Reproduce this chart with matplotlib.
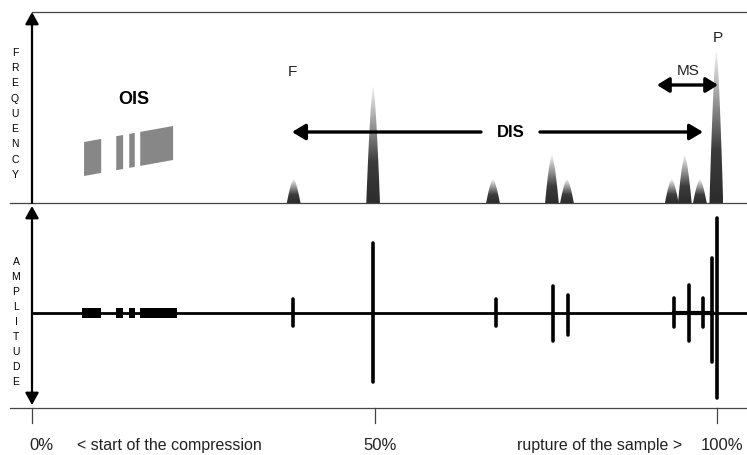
import matplotlib
matplotlib.use("Agg")
import matplotlib.pyplot as plt
import numpy as np
from matplotlib.colors import LinearSegmentedColormap
from matplotlib.patches import Polygon

plt.rcParams["font.family"] = ["Liberation Sans", "DejaVu Sans"]

# x axis = progress of the compression test in % (0 = start, 100 = rupture)
PEAK_POS  = [38.2, 49.8, 67.3, 75.9, 78.1, 93.4, 95.3, 97.5, 99.9]
PEAK_FREQ = [1.0, 4.9, 1.0, 2.0, 1.0, 1.0, 2.0, 1.0, 6.4]

# OIS: continuous low-level emission
OIS_START     = [7.6, 12.3, 14.2, 15.8]
OIS_END       = [10.1, 13.3, 15.0, 20.6]
OIS_AMP_START = [7.3, 12.3, 14.2, 15.8]
OIS_AMP_END   = [10.1, 13.3, 15.0, 21.2]

AMP_POS  = [38.1, 49.8, 67.7, 76.1, 78.2, 93.7, 95.9, 98.0, 99.3, 100.0]
AMP_UP   = [14, 70, 14, 27, 18, 15, 28, 15, 55, 95]
AMP_DOWN = [13, 69, 13, 28, 22, 14, 28, 14, 49, 85]

TICK_POS    = [0, 50, 100]
TICK_LABELS = ["0%", "50%", "100%"]

# geometry (figure pixels -> data)
W, H = 747, 456
X0, X100 = 32, 717
PX = 100.0 / (X100 - X0)          # % per pixel
XMAX = (W - X0) * PX
F_TOP, F_BOT = 13, 204            # frequency panel
A_TOP, A_BOT, A_MID = 204, 409, 314
FMAX = 8.0
FPX = FMAX / (F_BOT - F_TOP)      # frequency units per pixel

PEAK_W = 2.0
LINE_C = "#444444"

fig = plt.figure(figsize=(W / 100, H / 100), dpi=100)
ax_f = fig.add_axes([X0 / W, (H - F_BOT) / H, (W - X0) / W, (F_BOT - F_TOP) / H])
ax_a = fig.add_axes([X0 / W, (H - A_BOT) / H, (W - X0) / W, (A_BOT - A_TOP) / H])
for ax in (ax_f, ax_a):
    ax.set_xlim(0, XMAX)
    ax.axis("off")
ax_f.set_ylim(0, FMAX)
ax_a.set_ylim(A_MID - A_BOT, A_MID - A_TOP)

# ---------------------------------------------------------------------------
# Frequency panel
# ---------------------------------------------------------------------------
cmap = LinearSegmentedColormap.from_list(
    "peak", [(0, "#2c2c2c"), (0.35, "#3c3c3c"), (1, "#f6f6f6")])
grad = np.linspace(0, 1, 256).reshape(-1, 1)

for pos, h in zip(PEAK_POS, PEAK_FREQ):
    t = np.linspace(0, 1, 40)
    half = PEAK_W / 2 * (1 - t) ** 0.65
    xs = np.concatenate([pos - half, (pos + half)[::-1]])
    ys = np.concatenate([t * h, (t * h)[::-1]])
    poly = Polygon(np.column_stack([xs, ys]), closed=True,
                   facecolor="none", edgecolor="none")
    ax_f.add_patch(poly)
    im = ax_f.imshow(grad, cmap=cmap, origin="lower", aspect="auto",
                     extent=(pos - PEAK_W / 2, pos + PEAK_W / 2, 0, h), zorder=2)
    im.set_clip_path(poly)

# OIS band: slanted grey blocks
band_x = (OIS_START[0], OIS_END[-1])
band_y = ((F_BOT - 177) * FPX, (F_BOT - 161) * FPX)
band_h = 34 * FPX
for x0, x1 in zip(OIS_START, OIS_END):
    b0, b1 = np.interp([x0, x1], band_x, band_y)
    ax_f.add_patch(Polygon([(x0, b0), (x1, b1), (x1, b1 + band_h), (x0, b0 + band_h)],
                           closed=True, facecolor="#878787", edgecolor="none"))

ax_f.set_aspect("auto")
ax_f.set_xlim(0, XMAX)
ax_f.set_ylim(0, FMAX)

# frame lines
ax_f.plot([0, XMAX], [FMAX, FMAX], color=LINE_C, lw=0.9, clip_on=False)
ax_f.plot([(10 - X0) * PX, XMAX], [0, 0], color=LINE_C, lw=0.9, clip_on=False, zorder=3)
ax_f.annotate("", xy=(0, FMAX), xytext=(0, 0),
              arrowprops=dict(arrowstyle="-|>,head_length=0.45,head_width=0.25",
                              mutation_scale=16, lw=1.6, color="black",
                              shrinkA=0, shrinkB=0), annotation_clip=False)

# labels and arrows
fy = lambda y: (F_BOT - y) * FPX
fx = lambda x: (x - X0) * PX
ax_f.text(fx(134), fy(100), "OIS", fontsize=13, fontweight="bold",
          ha="center", va="center")
ax_f.text(fx(292), fy(72), "F", fontsize=11, ha="center", va="center", color="#222222")
ax_f.text(fx(511), fy(133), "DIS", fontsize=12, fontweight="bold",
          ha="center", va="center")
ax_f.text(fx(688), fy(71), "MS", fontsize=11, ha="center", va="center", color="#222222")
ax_f.text(fx(718), fy(38), "P", fontsize=11, ha="center", va="center", color="#222222")

arrow_kw = dict(arrowstyle="-|>,head_length=0.5,head_width=0.3",
                mutation_scale=16, lw=2.4, color="black", shrinkA=0, shrinkB=0)
ax_f.annotate("", xy=(fx(292), fy(133)), xytext=(fx(481), fy(133)), arrowprops=arrow_kw)
ax_f.annotate("", xy=(fx(703), fy(133)), xytext=(fx(540), fy(133)), arrowprops=arrow_kw)
ax_f.annotate("", xy=(fx(718), fy(86)), xytext=(fx(657), fy(86)),
              arrowprops=dict(arrowstyle="<|-|>,head_length=0.45,head_width=0.28",
                              mutation_scale=16, lw=2.4, color="black",
                              shrinkA=0, shrinkB=0), annotation_clip=False)

for i, ch in enumerate("FREQUENCY"):
    ax_f.text(fx(15), fy(53 + i * 15.25), ch, fontsize=7.5, ha="center",
              va="center", clip_on=False)

# ---------------------------------------------------------------------------
# Amplitude panel
# ---------------------------------------------------------------------------
ay = lambda y: A_MID - y
ax_a.plot([0, XMAX], [0, 0], color="black", lw=2.0)
ax_a.plot([AMP_POS[5], AMP_POS[8]], [0, 0], color="black", lw=3.0)
ax_a.hlines(np.zeros(len(OIS_AMP_START)), OIS_AMP_START, OIS_AMP_END,
            colors="black", lw=7.2, capstyle="butt")
ax_a.vlines(AMP_POS, [-d for d in AMP_DOWN], AMP_UP, colors="black", lw=2.6,
            capstyle="round")

ax_a.plot([(10 - X0) * PX, XMAX], [ay(A_BOT), ay(A_BOT)], color=LINE_C, lw=0.9,
          clip_on=False)
ax_a.annotate("", xy=(0, ay(207)), xytext=(0, ay(406)),
              arrowprops=dict(arrowstyle="<|-|>,head_length=0.45,head_width=0.25",
                              mutation_scale=16, lw=1.6, color="black",
                              shrinkA=0, shrinkB=0), annotation_clip=False)

for p in TICK_POS:
    ax_a.plot([p, p], [ay(A_BOT), ay(424)], color=LINE_C, lw=0.9, clip_on=False)

label_x = [fx(41), fx(380), fx(722)]
for x, lab in zip(label_x, TICK_LABELS):
    ax_a.text(x, ay(446), lab, fontsize=12, ha="center", va="center",
              color="#222222", clip_on=False)
ax_a.text(fx(77), ay(446), "< start of the compression", fontsize=11.5,
          ha="left", va="center", color="#222222", clip_on=False)
ax_a.text(fx(682), ay(446), "rupture of the sample >", fontsize=11.5,
          ha="right", va="center", color="#222222", clip_on=False)

for i, ch in enumerate("AMPLITUDE"):
    ax_a.text(fx(16), ay(262 + i * 15), ch, fontsize=7.5, ha="center",
              va="center", clip_on=False)

fig.savefig("out.png", dpi=100)
plt.close(fig)
